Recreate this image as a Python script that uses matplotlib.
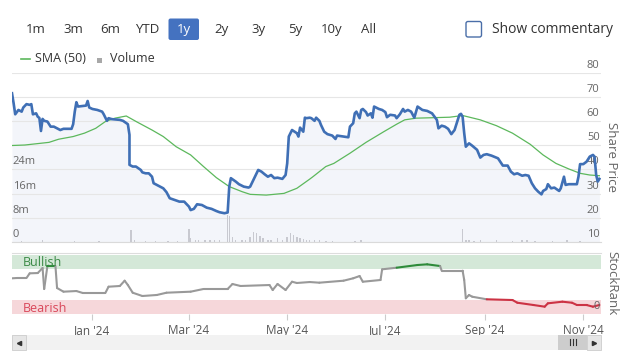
import numpy as np
import matplotlib
matplotlib.use('Agg')
import matplotlib.pyplot as plt
import matplotlib.dates as mdates
from matplotlib.patches import Rectangle, FancyBboxPatch
from matplotlib.collections import LineCollection

plt.rcParams['font.family'] = ['Open Sans', 'DejaVu Sans']

W, H = 627, 358
START = np.datetime64('2023-11-12')
END = START + np.timedelta64(366, 'D')

# share price (days after START)
price_days = [0, 1, 2, 4, 6, 7, 9, 11, 12, 13,
              15, 16, 17, 18, 19, 20, 22, 24, 26, 28,
              30, 32, 37, 38, 39, 40, 41, 46, 47, 48,
              50, 53, 56, 57, 59, 60, 62, 67, 69, 72,
              73, 73, 75, 77, 80, 81, 83, 85, 87, 88,
              90, 92, 94, 96, 98, 101, 104, 107, 110, 111,
              113, 115, 118, 121, 124, 127, 129, 132, 134, 135,
              136, 139, 141, 144, 147, 148, 150, 153, 155, 157,
              159, 161, 163, 165, 168, 170, 171, 172, 174, 177,
              178, 179, 181, 182, 183, 185, 186, 188, 189, 191,
              192, 194, 196, 199, 201, 202, 206, 209, 210, 212,
              213, 214, 216, 217, 218, 220, 221, 223, 224, 225,
              228, 230, 232, 233, 235, 238, 239, 241, 243, 244,
              246, 248, 250, 252, 255, 258, 261, 264, 265, 267,
              269, 271, 273, 275, 277, 278, 279, 280, 281, 282,
              284, 286, 289, 291, 293, 295, 298, 302, 305, 308,
              310, 312, 314, 317, 319, 321, 323, 325, 327, 329,
              330, 332, 333, 335, 337, 340, 341, 343, 344, 346,
              351, 352, 353, 355, 357, 359, 361, 362, 363, 364, 365]
price = [71.5, 67.4, 62.8, 64.6, 63.9, 65.6, 67.0, 66.7, 67.0, 62.8,
         63.2, 61.8, 61.3, 55.9, 60.9, 60.1, 59.8, 57.7, 57.7, 57.0,
         56.3, 56.8, 56.8, 58.7, 63.9, 67.8, 66.0, 66.4, 68.3, 65.6,
         65.0, 64.6, 63.9, 62.8, 60.1, 61.2, 60.8, 60.5, 60.1, 58.7,
         54.3, 41.9, 41.2, 41.2, 39.8, 38.8, 38.4, 38.4, 37.0, 34.3,
         33.6, 32.9, 32.2, 30.6, 28.1, 27.4, 26.7, 26.7, 24.6, 23.2,
         23.7, 25.6, 25.3, 24.2, 23.7, 22.8, 22.3, 21.9, 22.2, 32.9,
         36.4, 35.0, 33.9, 32.9, 32.5, 32.9, 35.7, 39.8, 39.1, 38.0,
         37.0, 37.7, 36.4, 36.6, 36.1, 37.7, 42.5, 53.6, 56.3, 55.0,
         53.6, 57.3, 55.6, 61.4, 61.2, 61.4, 61.2, 60.1, 61.4, 60.1,
         58.4, 55.6, 54.6, 54.0, 52.6, 54.0, 53.6, 53.3, 57.7, 59.1,
         63.2, 63.9, 61.2, 64.6, 65.0, 63.7, 62.3, 63.2, 61.4, 66.0,
         65.0, 64.6, 63.7, 61.6, 62.6, 62.3, 61.2, 62.8, 65.0, 63.9,
         64.6, 63.9, 61.4, 66.0, 64.6, 64.2, 63.2, 60.5, 57.0, 58.1,
         57.7, 56.8, 54.6, 56.3, 60.5, 62.6, 63.0, 61.8, 55.0, 49.4,
         50.8, 49.8, 48.1, 44.9, 46.0, 46.3, 45.7, 44.6, 41.6, 41.6,
         39.1, 38.0, 38.4, 37.4, 37.7, 37.4, 34.3, 32.2, 30.8, 29.7,
         31.1, 31.9, 33.9, 32.2, 32.5, 31.1, 32.2, 37.0, 33.6, 33.9,
         33.9, 37.0, 42.2, 42.2, 43.2, 45.3, 46.0, 45.3, 37.7, 35.0, 36.1]

# 50 day moving average
sma_days = [0, 8, 23, 29, 38, 45, 52, 58, 64, 71,
            78, 87, 94, 102, 111, 119, 127, 135, 143, 148,
            158, 169, 177, 185, 187, 195, 200, 210, 220, 231,
            239, 244, 251, 262, 272, 280, 291, 301, 311, 322,
            330, 338, 346, 353, 359, 365]
sma = [49.9, 50.1, 51.2, 52.5, 53.6, 55.0, 57.0, 59.8, 61.2, 62.1,
       59.5, 56.3, 53.6, 49.4, 46.0, 41.2, 36.6, 32.9, 30.8, 29.7,
       29.4, 30.1, 32.2, 36.0, 37.0, 41.2, 42.5, 46.7, 51.2, 55.6,
       58.7, 60.5, 61.2, 61.4, 61.6, 62.3, 60.5, 58.1, 55.0, 50.4,
       46.0, 42.5, 40.2, 38.4, 37.7, 37.4]

# volume in millions
vol_days = [6, 19, 39, 54, 74, 76, 83, 89, 97, 103,
            110, 111, 114, 116, 120, 123, 126, 129, 134, 135,
            137, 139, 143, 145, 148, 150, 152, 154, 156, 159,
            161, 165, 168, 171, 173, 175, 177, 179, 181, 183,
            185, 188, 191, 195, 199, 213, 217, 280, 282, 284,
            287, 291, 301, 311, 317, 320, 325, 336, 345, 353]
volume = [0.3, 0.5, 0.3, 0.3, 4.0, 0.5, 0.3, 0.3, 0.3, 0.3,
          4.3, 1.3, 0.8, 0.5, 0.5, 0.5, 0.8, 0.5, 8.9, 8.6,
          1.5, 0.8, 0.5, 0.8, 1.5, 3.4, 3.0, 2.0, 1.3, 0.5,
          0.8, 1.3, 0.5, 1.8, 2.9, 2.3, 1.5, 1.3, 1.0, 0.8,
          0.5, 0.5, 0.5, 0.3, 0.3, 0.3, 0.5, 4.2, 0.8, 0.5,
          0.3, 0.5, 0.5, 0.3, 0.8, 0.5, 0.3, 0.3, 0.5, 0.3]

# StockRank 0-100
rank_days = [0, 3, 9, 11, 16, 19, 20, 22, 27, 28,
             32, 40, 44, 58, 60, 67, 70, 72, 75, 81,
             90, 96, 111, 119, 134, 137, 142, 160, 162, 165,
             170, 174, 177, 185, 191, 206, 212, 216, 218, 229,
             230, 239, 252, 258, 266, 267, 280, 281, 282, 284,
             286, 295, 311, 314, 324, 331, 333, 342, 348, 351,
             357, 361, 365]
rank = [59.5, 60.0, 60.0, 67.8, 68.3, 76.7, 41.7, 80.0, 80.0, 43.3,
        37.2, 38.3, 35.0, 35.0, 45.5, 46.7, 55.5, 48.3, 35.5, 30.0,
        31.7, 35.5, 37.2, 41.7, 41.7, 50.0, 46.7, 48.3, 40.0, 50.0,
        40.0, 53.8, 51.7, 53.3, 52.2, 55.5, 59.5, 63.3, 53.8, 56.7,
        74.5, 77.2, 81.7, 82.8, 80.0, 72.2, 72.2, 56.7, 26.2, 31.7,
        28.8, 24.5, 23.3, 18.8, 15.0, 12.2, 17.8, 20.5, 18.8, 15.0,
        15.0, 12.2, 15.0]

price_ticks = [10, 20, 30, 40, 50, 60, 70, 80]
vol_ticks = [0, 8, 16, 24]
range_buttons = ['1m', '3m', '6m', 'YTD', '1y', '2y', '3y', '5y', '10y', 'All']
selected = '1y'
bull_band = (75, 99)
bear_band = (0, 23.3)

BLUE = '#3f6fb5'
GREEN = '#5cb85c'
TXT = '#333333'
GREY = '#666666'


def box(left, top, right, bottom):
    return [left / W, 1 - bottom / H, (right - left) / W, (bottom - top) / H]


def to_dates(days):
    return START + np.array(days).astype('timedelta64[D]')


fig = plt.figure(figsize=(W / 100, H / 100), dpi=100)

# ---- price panel
ax = fig.add_axes(box(12, 72.7, 601, 242))
ax.set_ylim(10, 80)
ax.set_xlim(START, END)
ax.fill_between(to_dates(price_days), price, 10, color='#f3f5fa', lw=0)
ax.set_yticks(price_ticks)
ax.grid(axis='y', color='#e6e6e6', lw=0.8)
ax.tick_params(axis='both', length=0, labelleft=False, labelbottom=False)
for s in ['top', 'left', 'right']:
    ax.spines[s].set_visible(False)
ax.spines['bottom'].set_color('#dadada')
for v in price_ticks:
    ax.annotate(str(v), xy=(1, v), xycoords=('axes fraction', 'data'),
                xytext=(-1, 1.5), textcoords='offset points',
                ha='right', va='bottom', fontsize=8, color=GREY)

ax_v = ax.twinx()
ax_v.set_ylim(0, 56)
ax_v.bar(to_dates(vol_days), volume, width=0.9, color='#c8c9d0', lw=0)
ax_v.set_axis_off()
for v in vol_ticks:
    ax_v.annotate(f'{v}m' if v else '0', xy=(0, v),
                  xycoords=('axes fraction', 'data'),
                  xytext=(0.5, 1.5), textcoords='offset points',
                  ha='left', va='bottom', fontsize=8, color=GREY)

ax_l = ax.twinx()
ax_l.set_ylim(10, 80)
ax_l.plot(to_dates(sma_days), sma, color=GREEN, lw=0.9)
ax_l.plot(to_dates(price_days), price, color=BLUE, lw=1.9,
          solid_joinstyle='round')
ax_l.set_axis_off()
ax_l.set_xlim(START, END)

# ---- StockRank panel
ax_r = fig.add_axes(box(12, 253, 601, 314), sharex=ax)
ax_r.set_ylim(0, 101.7)
ax_r.axhspan(*bull_band, color='#d4e8d8', lw=0)
ax_r.axhspan(*bear_band, color='#f6d7da', lw=0)
x = mdates.date2num(to_dates(rank_days))
pts = np.column_stack([x, rank])
segs = np.stack([pts[:-1], pts[1:]], axis=1)
cols = []
for a, b in zip(rank[:-1], rank[1:]):
    if min(a, b) >= bull_band[0]:
        cols.append('#2e8b3a')
    elif max(a, b) <= 25:
        cols.append('#cc3344')
    else:
        cols.append('#999999')
ax_r.add_collection(LineCollection(segs, colors=cols, lw=1.5,
                                   capstyle='round', joinstyle='round'))
ax_r.set_yticks([])
for s in ['left', 'right', 'bottom']:
    ax_r.spines[s].set_visible(False)
ax_r.spines['top'].set_color('#dddddd')
ax_r.xaxis.set_major_locator(mdates.MonthLocator(bymonth=[1, 3, 5, 7, 9, 11]))
ax_r.xaxis.set_major_formatter(mdates.DateFormatter("%b '%y"))
ax_r.tick_params(axis='x', length=4.5, color='#cccccc', labelcolor='#555555',
                 labelsize=8.5, pad=2.5)
ax.tick_params(axis='x', length=0, labelbottom=False)
ax_r.annotate('Bullish', xy=(0, 86), xycoords=('axes fraction', 'data'),
              xytext=(7.7, 0), textcoords='offset points', va='center',
              fontsize=9, color='#3a8a45')
ax_r.annotate('Bearish', xy=(0, 9.5), xycoords=('axes fraction', 'data'),
              xytext=(7.7, 0), textcoords='offset points', va='center',
              fontsize=9, color='#d9475a')
ax_r.annotate('0', xy=(1, 0), xycoords=('axes fraction', 'data'),
              xytext=(-1, 1.5), textcoords='offset points',
              ha='right', va='bottom', fontsize=8, color=GREY)

# ---- chrome (range buttons, legend, scrollbar) in pixel units
ui = fig.add_axes([0, 0, 1, 1])
ui.set_xlim(0, W)
ui.set_ylim(H, 0)
ui.set_axis_off()

for i, lab in enumerate(range_buttons):
    cx = 36 + 37 * i
    col = TXT
    if lab == selected:
        ui.add_patch(FancyBboxPatch((168.5, 18.5), 30.5, 21.5,
                                    boxstyle='round,pad=0,rounding_size=2',
                                    fc='#4472c0', ec='none'))
        col = 'white'
    ui.text(cx, 29.5, lab, ha='center', va='center', fontsize=9.5, color=col)

ui.add_patch(FancyBboxPatch((466, 21.5), 15.5, 15.5,
                            boxstyle='round,pad=0,rounding_size=2',
                            fc='white', ec='#4a6ea8', lw=1))
ui.text(492.5, 29.5, 'Show commentary', ha='left', va='center',
        fontsize=10, color=TXT)

ui.plot([20.5, 30], [59.3, 59.3], color=GREEN, lw=1.2)
ui.text(35, 59, 'SMA (50)', ha='left', va='center', fontsize=9, color=TXT)
ui.add_patch(Rectangle((96.7, 58.3), 5, 5, fc='#a8a8a8', ec='none'))
ui.text(110.5, 59, 'Volume', ha='left', va='center', fontsize=9, color=TXT)

fig.text(611.5 / W, 1 - 157 / H, 'Share Price', rotation=270, ha='center',
         va='center', fontsize=9.5, color=GREY)
fig.text(611.5 / W, 1 - 283 / H, 'StockRank', rotation=270, ha='center',
         va='center', fontsize=9.5, color=GREY)

ui.add_patch(Rectangle((12, 335), 589, 15, fc='#f2f2f2', ec='none'))
ui.add_patch(Rectangle((12, 335), 14, 15, fc='#e6e6e6', ec='#cccccc', lw=0.6))
ui.plot([19], [342.5], marker='<', ms=3, color='#333333')
ui.add_patch(Rectangle((558, 335), 29, 15, fc='#cdcdcd', ec='none'))
for gx in [569.5, 572.5, 575.5]:
    ui.plot([gx, gx], [338.5, 345], color='#333333', lw=0.8)
ui.add_patch(Rectangle((587, 335), 14, 15, fc='#e6e6e6', ec='#cccccc', lw=0.6))
ui.plot([594], [342.5], marker='>', ms=3, color='#333333')

fig.savefig('out.png', dpi=100)
